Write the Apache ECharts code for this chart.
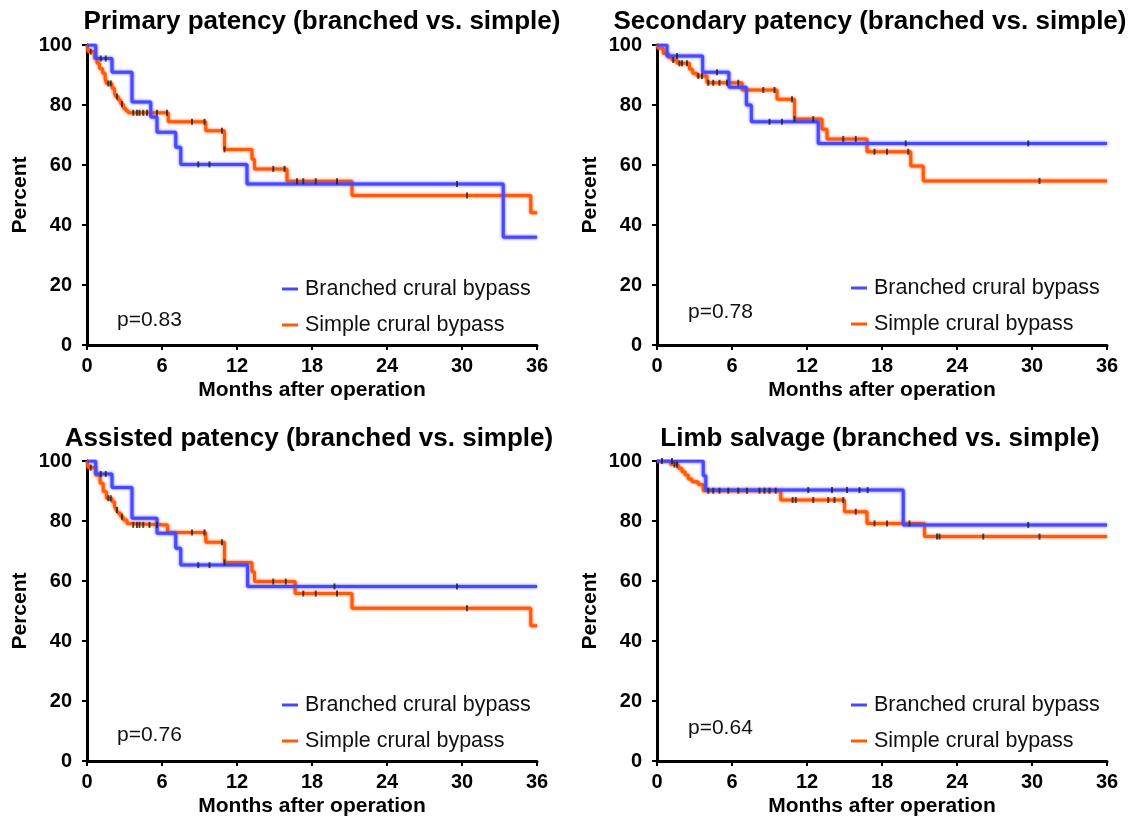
<!DOCTYPE html>
<html>
<head>
<meta charset="utf-8">
<script src="https://cdn.jsdelivr.net/npm/echarts@6/dist/echarts.min.js"></script>
<style>
  html, body { margin: 0; padding: 0; background: #fff; }
  #chart { width: 1146px; height: 819px; }
</style>
</head>
<body>
<div id="chart"></div>
<script>
// ---------------- DATA ----------------
const monthTicks = [0, 6, 12, 18, 24, 30, 36];
const percentTicks = [0, 20, 40, 60, 80, 100];
const seriesNames = ['Branched crural bypass', 'Simple crural bypass'];
const panelTitles = [
  'Primary patency (branched vs. simple)',
  'Secondary patency (branched vs. simple)',
  'Assisted patency (branched vs. simple)',
  'Limb salvage (branched vs. simple)'
];
const pValues = ['p=0.83', 'p=0.78', 'p=0.76', 'p=0.64'];

// Primary patency
const primaryBranchedT = [0, 0.7, 2.0, 3.6, 5.1, 5.6, 7.1, 7.5, 12.8, 33.3, 36];
const primaryBranchedS = [100, 95.5, 90.9, 81.0, 76.0, 70.9, 65.9, 60.2, 53.7, 35.9, 35.9];
const primaryBranchedCens = [1.1, 1.5, 8.9, 9.8, 29.6];
const primarySimpleT = [0, 0.1, 0.6, 0.8, 1.0, 1.25, 1.45, 1.55, 2.0, 2.2, 2.3, 2.5, 2.7, 2.9, 3.1, 3.3, 6.5, 9.5, 11.0, 13.2, 13.4, 16.0, 21.2, 35.5, 36];
const primarySimpleS = [100, 97.8, 95.6, 93.9, 92.2, 90.6, 88.9, 87.2, 85.6, 83.9, 82.8, 81.7, 80.3, 78.9, 78.1, 77.4, 74.4, 71.4, 65.2, 61.9, 58.7, 54.6, 49.8, 44.1, 44.1];
const primarySimpleCens = [0.3, 1.7, 1.9, 2.4, 2.8, 3.7, 4.0, 4.2, 4.5, 4.8, 5.6, 6.4, 8.4, 9.4, 10.8, 11.0, 14.9, 15.8, 16.8, 17.3, 18.3, 20.0, 30.4];

// Secondary patency
const secondaryBranchedT = [0, 0.8, 3.65, 5.75, 7.15, 7.55, 12.9, 36];
const secondaryBranchedS = [100, 96.3, 90.9, 85.9, 80.0, 74.4, 67.2, 67.2];
const secondaryBranchedCens = [1.6, 4.8, 9.0, 10.0, 19.9, 29.7];
const secondarySimpleT = [0, 0.1, 0.5, 0.9, 1.2, 1.6, 2.6, 2.85, 3.2, 4.0, 6.8, 9.6, 11.0, 13.2, 13.6, 16.8, 20.3, 21.3, 36];
const secondarySimpleS = [100, 98.9, 97.2, 95.9, 95.0, 93.9, 91.9, 90.6, 89.7, 87.4, 85.0, 81.9, 75.3, 71.9, 68.7, 64.4, 59.7, 54.7, 54.7];
const secondarySimpleCens = [1.3, 1.8, 2.0, 2.4, 3.3, 3.6, 4.1, 4.5, 5.0, 5.6, 6.5, 8.5, 9.4, 10.8, 11.0, 12.5, 14.9, 15.9, 17.4, 18.4, 20.1, 30.6];

// Assisted patency
const assistedBranchedT = [0, 0.7, 2.0, 3.6, 5.6, 7.1, 7.5, 12.85, 36];
const assistedBranchedS = [100, 95.7, 91.2, 80.9, 75.9, 70.9, 65.3, 58.2, 58.2];
const assistedBranchedCens = [1.1, 1.5, 8.9, 9.8, 19.8, 29.6];
const assistedSimpleT = [0, 0.1, 0.7, 1.05, 1.3, 1.55, 2.0, 2.2, 2.35, 2.5, 2.7, 2.9, 3.2, 3.3, 6.45, 9.5, 11.0, 13.2, 13.4, 16.65, 21.2, 35.5, 36];
const assistedSimpleS = [100, 97.8, 95.3, 92.6, 89.8, 87.6, 86.4, 84.8, 83.7, 82.6, 81.4, 80.3, 79.2, 78.7, 76.2, 72.9, 66.2, 63.1, 59.8, 55.8, 50.9, 45.1, 45.1];
const assistedSimpleCens = [0.3, 1.7, 1.9, 2.4, 2.8, 3.7, 4.0, 4.2, 4.5, 5.0, 5.6, 8.4, 9.4, 10.8, 11.0, 14.9, 15.9, 17.3, 18.3, 20.0, 30.4];

// Limb salvage
const limbBranchedT = [0, 3.7, 3.9, 19.7, 36];
const limbBranchedS = [100, 95.1, 90.3, 78.7, 78.7];
const limbBranchedCens = [0.4, 1.2, 12.1, 14.0, 15.2, 16.2, 16.85, 29.7];
const limbSimpleT = [0, 1.1, 1.7, 2.0, 2.25, 2.5, 2.8, 3.3, 3.7, 9.9, 15.0, 16.8, 21.4, 36];
const limbSimpleS = [100, 98.8, 97.6, 96.4, 95.3, 94.0, 93.1, 92.2, 90.1, 87.0, 83.1, 79.2, 74.8, 74.8];
const limbSimpleCens = [1.4, 1.6, 4.1, 4.5, 5.0, 5.7, 6.5, 7.2, 8.2, 8.6, 9.0, 9.5, 10.85, 11.1, 12.5, 13.7, 14.2, 14.9, 15.9, 17.4, 18.4, 20.2, 22.4, 22.6, 26.1, 30.6];

const panelData = [
  [primaryBranchedT, primaryBranchedS, primaryBranchedCens, primarySimpleT, primarySimpleS, primarySimpleCens],
  [secondaryBranchedT, secondaryBranchedS, secondaryBranchedCens, secondarySimpleT, secondarySimpleS, secondarySimpleCens],
  [assistedBranchedT, assistedBranchedS, assistedBranchedCens, assistedSimpleT, assistedSimpleS, assistedSimpleCens],
  [limbBranchedT, limbBranchedS, limbBranchedCens, limbSimpleT, limbSimpleS, limbSimpleCens]
];

// ---------------- LAYOUT / STYLE ----------------
const BLUE = '#4848ff';
const ORANGE = '#ff5a0a';
const FONT = '"Liberation Sans", Arial, sans-serif';
const grids = [
  { left: 87, top: 45, width: 450, height: 300 },
  { left: 657, top: 45, width: 450, height: 300 },
  { left: 87, top: 461, width: 450, height: 300 },
  { left: 657, top: 461, width: 450, height: 300 }
];
const titlePos = [[317, 4], [865, 4], [304, 421], [875, 421]];
const pPos = [[117, 320], [688, 312], [117, 735], [688, 728]];
const legendPos = [[277, 273], [846, 272], [277, 689], [846, 689]];

function survAt(T, S, t) {
  let v = S[0];
  for (let i = 0; i < T.length; i++) { if (T[i] <= t) v = S[i]; }
  return v;
}

const chart = echarts.init(document.getElementById('chart'), null, { renderer: 'canvas' });

const xAxes = [], yAxes = [], series = [], titles = [], legends = [], graphics = [];
grids.forEach((g, i) => {
  xAxes.push({
    gridIndex: i, type: 'value', min: 0, max: 36, interval: 6,
    name: 'Months after operation', nameLocation: 'middle', nameGap: 35,
    nameTextStyle: { fontFamily: FONT, fontSize: 21, fontWeight: 'bold', color: '#000' },
    axisLine: { show: true, onZero: false, lineStyle: { color: '#000', width: 3 } },
    axisTick: { show: true, length: 5, lineStyle: { color: '#000', width: 2 } },
    axisLabel: { fontFamily: FONT, fontSize: 20, fontWeight: 'bold', color: '#000', margin: 11 },
    splitLine: { show: false }
  });
  yAxes.push({
    gridIndex: i, type: 'value', min: 0, max: 100, interval: 20,
    name: 'Percent', nameLocation: 'middle', nameGap: 56,
    nameTextStyle: { fontFamily: FONT, fontSize: 21, fontWeight: 'bold', color: '#000' },
    axisLine: { show: true, onZero: false, lineStyle: { color: '#000', width: 3 } },
    axisTick: { show: true, length: 5, lineStyle: { color: '#000', width: 2 } },
    axisLabel: { fontFamily: FONT, fontSize: 20, fontWeight: 'bold', color: '#000', margin: 15 },
    splitLine: { show: false }
  });
  const [bT, bS, bC, sT, sS, sC] = panelData[i];
  const mk = (T, S, name, color) => ({
    name, type: 'line', xAxisIndex: i, yAxisIndex: i, step: 'end',
    data: T.map((t, k) => [t, S[k]]), showSymbol: false, symbol: 'none',
    lineStyle: { color, width: 3, shadowColor: color, shadowBlur: 3 },
    itemStyle: { color }, animation: false, z: 3
  });
  const cens = (T, S, C, name) => ({
    name: name + ' (censored)', type: 'scatter', xAxisIndex: i, yAxisIndex: i,
    data: C.map(t => [t, survAt(T, S, t)]), symbol: 'rect', symbolSize: [2, 6],
    itemStyle: { color: '#222' }, animation: false, z: 5, silent: true
  });
  series.push(mk(sT, sS, seriesNames[1], ORANGE));
  series.push(mk(bT, bS, seriesNames[0], BLUE));
  series.push(cens(sT, sS, sC, seriesNames[1]));
  series.push(cens(bT, bS, bC, seriesNames[0]));

  titles.push({
    text: panelTitles[i], left: titlePos[i][0], top: titlePos[i][1], textAlign: 'center',
    textStyle: { fontFamily: FONT, fontSize: 26, fontWeight: 'bold', color: '#000' }
  });
  legends.push({
    data: seriesNames, orient: 'vertical', left: legendPos[i][0], top: legendPos[i][1],
    itemWidth: 16, itemHeight: 3, itemGap: 14, icon: 'rect', selectedMode: false,
    textStyle: { fontFamily: FONT, fontSize: 21.5, color: '#111', lineHeight: 21, padding: [0, 0, 0, 2] }
  });
  graphics.push({
    type: 'text', x: pPos[i][0], y: pPos[i][1],
    style: { text: pValues[i], font: '21px ' + FONT, fill: '#111', verticalAlign: 'middle', textVerticalAlign: 'middle' }
  });
});

chart.setOption({
  backgroundColor: '#fff',
  animation: false,
  title: titles,
  legend: legends,
  grid: grids.map(g => Object.assign({ containLabel: false, outerBoundsMode: 'none' }, g)),
  xAxis: xAxes,
  yAxis: yAxes,
  series: series,
  graphic: graphics
});
</script>
</body>
</html>
